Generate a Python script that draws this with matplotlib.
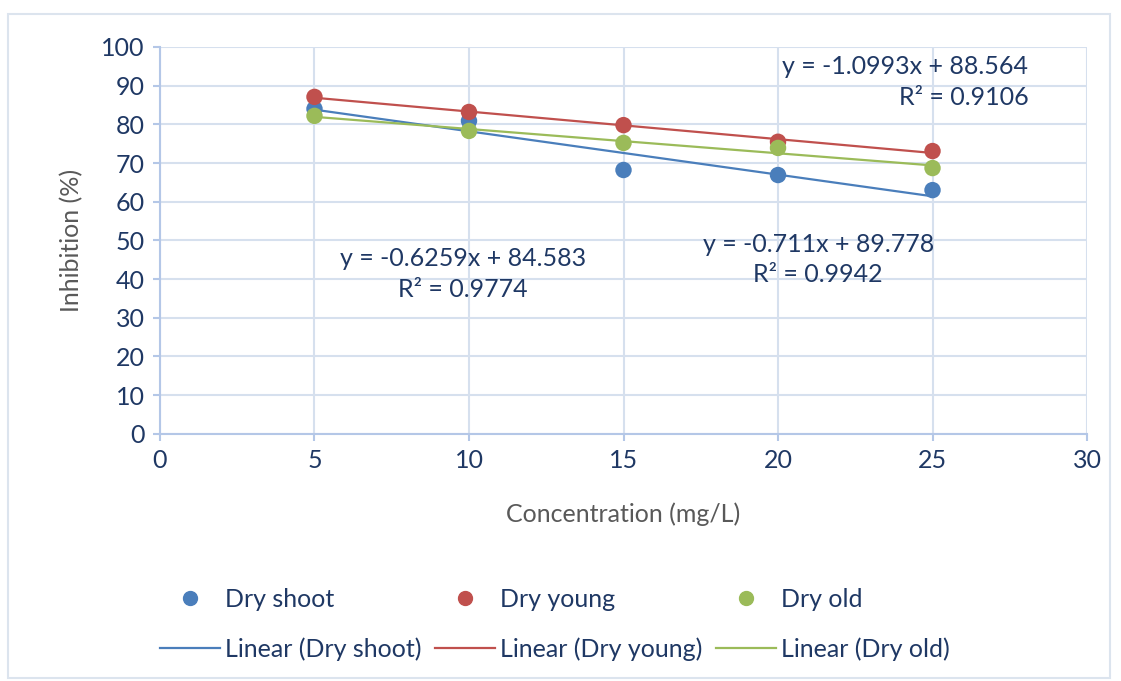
import numpy as np
import matplotlib.pyplot as plt
from matplotlib.lines import Line2D
from matplotlib.patches import Rectangle

plt.rcParams['font.family'] = ['Lato', 'DejaVu Sans']

# Données
concentration = [5, 10, 15, 20, 25]
dry_shoot = [84.0, 80.9, 68.2, 66.9, 63.0]
dry_young = [87.1, 83.2, 79.8, 75.5, 73.1]
dry_old = [82.2, 78.3, 75.2, 73.9, 68.7]

series_names = ['Dry shoot', 'Dry young', 'Dry old']
series_colors = ['#4a7ebb', '#c0504d', '#9bbb59']

eq_young = 'y = -1.0993x + 88.564\nR² = 0.9106'
eq_shoot = 'y = -0.6259x + 84.583\nR² = 0.9774'
eq_old = 'y = -0.711x + 89.778\nR² = 0.9942'

text_color = '#1f3864'
label_color = '#595959'
grid_color = '#d6e0ee'
fs = 18

fig = plt.figure(figsize=(11.21, 6.81), dpi=100)
ax = fig.add_axes([0.1427, 0.363, 0.827, 0.568])

x = np.array(concentration)
handles_pts = []
handles_lin = []
for name, vals, col in zip(series_names, [dry_shoot, dry_young, dry_old], series_colors):
    vals = np.array(vals)
    # Courbe de tendance linéaire
    k, b = np.polyfit(x, vals, 1)
    ax.plot(x, k * x + b, color=col, linewidth=1.6, zorder=2)
    ax.scatter(x, vals, s=140, color=col, zorder=3, edgecolors='none')
    handles_pts.append(Line2D([], [], marker='o', linestyle='none', color=col,
                              markersize=10, label=name))
    handles_lin.append(Line2D([], [], color=col, linewidth=1.6,
                              label=f'Linear ({name})'))

ax.set_xlim(0, 30)
ax.set_ylim(0, 100)
ax.set_xticks(range(0, 31, 5))
ax.set_yticks(range(0, 101, 10))
ax.grid(True, color=grid_color, linewidth=1.5)
ax.set_axisbelow(True)
for side in ['top', 'right']:
    ax.spines[side].set_visible(False)
for side in ['left', 'bottom']:
    ax.spines[side].set_color('#b4c7e7')
    ax.spines[side].set_linewidth(1.5)
ax.tick_params(axis='both', colors='#b4c7e7', length=5, width=1.5,
               labelcolor=text_color, labelsize=fs, pad=6)

ax.set_xlabel('Concentration (mg/L)', fontsize=fs, color=label_color, labelpad=22)
ax.set_ylabel('Inhibition (%)', fontsize=fs, color=label_color, labelpad=13)

ax.text(28.1, 91.0, eq_young, fontsize=fs, color=text_color, ha='right',
        va='center', linespacing=1.4)
ax.text(9.8, 41.3, eq_shoot, fontsize=fs, color=text_color, ha='center',
        va='center', linespacing=1.4)
ax.text(21.3, 45.1, eq_old, fontsize=fs, color=text_color, ha='center',
        va='center', linespacing=1.4)

handles = []
for hp, hl in zip(handles_pts, handles_lin):
    handles += [hp, hl]
leg = fig.legend(handles=handles, ncol=3, loc='center', bbox_to_anchor=(0.495, 0.083),
                 frameon=False, fontsize=fs, handlelength=2.4, handletextpad=0.2,
                 columnspacing=0.55, labelspacing=1.05, labelcolor=text_color)

# Cadre extérieur
fig.patches.append(Rectangle((0.007, 0.005), 0.983, 0.975, transform=fig.transFigure,
                             fill=False, edgecolor='#dce4ee', linewidth=1.5))

fig.savefig('out.png', dpi=100)
